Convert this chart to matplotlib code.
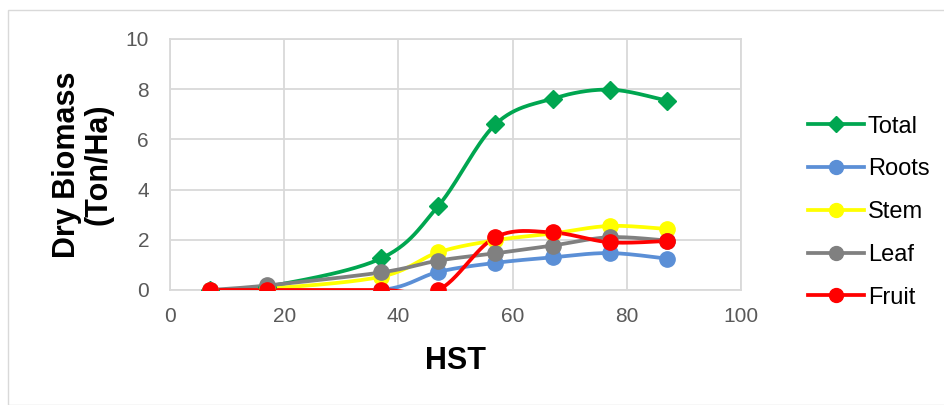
import numpy as np
import matplotlib.pyplot as plt
from matplotlib.patches import Rectangle

plt.rcParams['font.family'] = ['Liberation Sans', 'DejaVu Sans']

##### Data #####
hst = [7, 17, 37, 47, 57, 67, 77, 87]
total = [0.0, 0.13, 1.26, 3.35, 6.6, 7.62, 7.98, 7.54]
roots = [0.0, 0.0, 0.0, 0.72, 1.08, 1.3, 1.47, 1.25]
stem = [0.0, 0.05, 0.53, 1.5, 1.98, 2.25, 2.55, 2.43]
leaf = [0.0, 0.18, 0.7, 1.17, 1.46, 1.77, 2.1, 1.97]
fruit = [0.0, 0.0, 0.0, 0.0, 2.1, 2.29, 1.9, 1.95]

series = [
    ("Total", total, "#00A650", "D"),
    ("Roots", roots, "#5B8FD6", "o"),
    ("Stem", stem, "#FFFF00", "o"),
    ("Leaf", leaf, "#808080", "o"),
    ("Fruit", fruit, "#FF0000", "o"),
]


def smooth(x, y, n=30):
    # Excel-style smoothed line (Catmull-Rom bezier through the points)
    p = np.column_stack([x, y]).astype(float)
    p = np.vstack([p[0], p, p[-1]])
    out = []
    t = np.linspace(0, 1, n)[:, None]
    for i in range(1, len(p) - 2):
        p0, p1, p2, p3 = p[i - 1], p[i], p[i + 1], p[i + 2]
        c1 = p1 + (p2 - p0) / 6
        c2 = p2 - (p3 - p1) / 6
        seg = ((1 - t) ** 3) * p1 + 3 * ((1 - t) ** 2) * t * c1 + 3 * (1 - t) * t ** 2 * c2 + t ** 3 * p2
        out.append(seg)
    out = np.vstack(out)
    return out[:, 0], out[:, 1]


fig = plt.figure(figsize=(9.44, 4.05), dpi=100)
ax = fig.add_axes([0.180, 0.284, 0.605, 0.620])

# light border around the chart area
fig.patches.append(Rectangle((8 / 944, 0), 1.0, 1 - 10 / 405, transform=fig.transFigure,
                             fill=False, edgecolor="#D9D9D9", linewidth=1))

lw = 2.7
for name, vals, col, mk in series:
    ms = 9 if mk == "D" else 11
    sx, sy = smooth(hst, vals)
    ax.plot(sx, sy, color=col, lw=lw, zorder=3, solid_capstyle="round")
    ax.plot(hst, vals, linestyle="none", marker=mk, color=col, markersize=ms, zorder=4)
    ax.plot([], [], color=col, lw=lw, marker=mk,
            markersize=ms - 1, label=name)

ax.set_xlim(0, 100)
ax.set_ylim(0, 10)
ax.set_xticks(range(0, 101, 20))
ax.set_yticks(range(0, 11, 2))
ax.grid(True, color="#D9D9D9", lw=1.3)
ax.set_axisbelow(True)
for s in ax.spines.values():
    s.set_color("#D9D9D9")
    s.set_linewidth(1.3)
ax.tick_params(length=0, labelsize=15, labelcolor="#595959")
ax.tick_params(axis="x", pad=12)
ax.tick_params(axis="y", pad=15)

ax.set_xlabel("HST", fontsize=22, fontweight="bold", labelpad=15)
ax.set_ylabel("Dry Biomass\n(Ton/Ha)", fontsize=22, fontweight="bold", labelpad=9,
              linespacing=1.05)

ax.legend(loc="center left", bbox_to_anchor=(1.10, 0.31), frameon=False,
          fontsize=17, handlelength=2.4, handletextpad=0.15, labelspacing=0.88,
          borderaxespad=0)

fig.savefig("out.png", dpi=100)
